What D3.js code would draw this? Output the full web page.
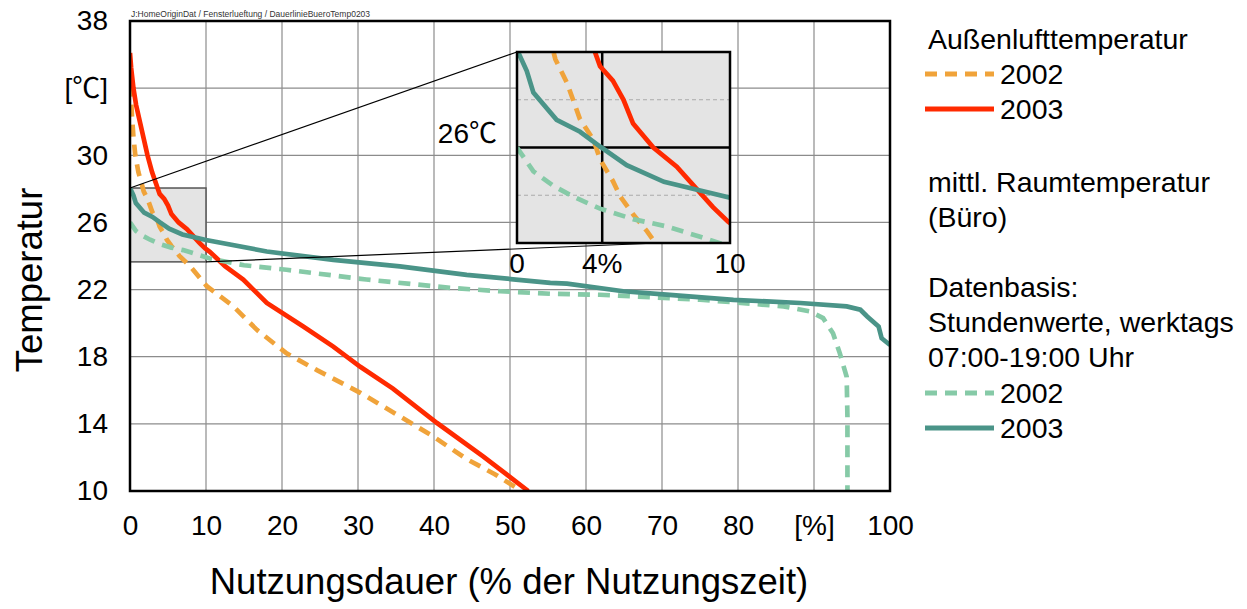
<!DOCTYPE html>
<html lang="de">
<head>
<meta charset="UTF-8">
<title>Dauerlinie Temperatur</title>
<script src="https://d3js.org/d3.v7.min.js"></script>
<style>
  body { margin: 0; background: #fff; }
  svg text { font-family: "Liberation Sans", Arial, "Noto Sans CJK JP", sans-serif; fill: #000; }
</style>
</head>
<body>
<svg id="main" width="1247" height="609"></svg>
<script>
// Dauerlinien: [Nutzungsdauer %, Temperatur °C]
const aussen2002 = [[0,34.2],[0.1,33.8],[0.25,32.4],[0.45,31.1],[0.7,30.0],[1.1,29.0],[1.6,28.2],[1.8,27.85],[2.35,27.35],[2.95,26.6],
  [3.6,26.15],[3.9,25.75],[4.5,25.3],[4.85,24.97],[5.45,24.6],[6.1,24.25],[6.5,24.0],[7.9,23.4],[10.1,22.2],
  [13.6,21.0],[16.7,19.6],[20.6,18.2],[24.6,17.2],[30.3,15.85],[35.5,14.45],[39.9,13.25],[44.3,11.9],[48,11.0],[51.5,10]];
const aussen2003 = [[0,36.1],[0.15,35.2],[0.45,34.0],[0.8,33.0],[1.3,32.0],[1.8,31.0],[2.3,30.0],[2.9,29.0],[3.66,28.0],[3.9,27.7],
  [4.5,27.4],[5.0,27.0],[5.45,26.5],[6.4,26.0],[7.5,25.6],[8.6,25.05],[9.2,24.75],[9.9,24.45],[10.5,24.25],
  [12.5,23.4],[14.9,22.6],[18,21.2],[22.8,19.8],[26.75,18.6],[30.3,17.4],[34.6,16.1],[40.4,14.05],[46.5,12.05],[52.4,10]];
const raum2002 = [[0,26.0],[0.77,25.5],[1.7,25.2],[2.65,24.97],[3.9,24.72],[5.45,24.5],[7.0,24.35],[8.6,24.13],
  [10.5,23.85],[15,23.45],[20.6,23.18],[31.1,22.6],[42.1,22.1],[48.7,21.9],[55.3,21.75],[61.8,21.69],[75,21.4],
  [86,21.0],[89.5,20.7],[91.2,20.3],[92.5,19.4],[93.4,18.2],[94.3,16.8],[94.4,14.4],[94.4,10]];
const raum2003 = [[0,28.05],[0.46,27.6],[0.77,27.15],[1.86,26.58],[2.96,26.33],[3.9,26.02],[5.15,25.63],[6.9,25.28],
  [8.6,25.1],[10,24.95],[18,24.27],[26.75,23.77],[35.5,23.38],[44.3,22.88],[55.3,22.4],[57.5,22.35],[64.9,21.9],
  [70.6,21.7],[79.4,21.39],[88.2,21.2],[94.3,21.0],[96.1,20.8],[97,20.4],[98.5,19.8],[98.9,19.1],[100,18.7]];

const xTicks = [0,10,20,30,40,50,60,70,80,90,100];
const xTickLabels = ['0','10','20','30','40','50','60','70','80','[%]','100'];
const yTicks = [10,14,18,22,26,30,34,38];
const yTickLabels = ['10','14','18','22','26','30','[℃]','38'];

// Ausschnitt (Lupe)
const zoomPct = [0, 10];
const zoomTemp = [24, 28];
const zoomBoxTemp = [23.65, 28.05];
const insetXTicks = [0, 4, 10];
const insetXLabels = ['0', '4%', '10'];

const series = [
  {data: aussen2002, color: '#f0a33a', dash: '12,8', label: '2002'},
  {data: aussen2003, color: '#ff2a00', dash: null, label: '2003'},
  {data: raum2002, color: '#86caa7', dash: '12,8', label: '2002'},
  {data: raum2003, color: '#4a9488', dash: null, label: '2003'}
];

let svg = d3.select('svg#main');
let x = d3.scaleLinear().domain([0,100]).range([130,890]);
let y = d3.scaleLinear().domain([10,38]).range([491,21]);

svg.append('rect').attr('width',1247).attr('height',609).attr('fill','#fff');

svg.append('clipPath').attr('id','plotClip').append('rect')
  .attr('x',130).attr('y',21).attr('width',760).attr('height',470);

// grid
svg.append('g').selectAll('line').data(xTicks.slice(1,-1)).enter().append('line')
  .attr('x1',d=>x(d)).attr('x2',d=>x(d)).attr('y1',y(38)).attr('y2',y(10))
  .attr('stroke','#8c8c8c').attr('stroke-width',1.2);
svg.append('g').selectAll('line').data(yTicks.slice(1,-1)).enter().append('line')
  .attr('y1',d=>y(d)).attr('y2',d=>y(d)).attr('x1',x(0)).attr('x2',x(100))
  .attr('stroke','#8c8c8c').attr('stroke-width',1.2);

// grey zoom box in the main plot
svg.append('rect')
  .attr('x',x(zoomPct[0])).attr('y',y(zoomBoxTemp[1]))
  .attr('width',x(zoomPct[1])-x(zoomPct[0])).attr('height',y(zoomBoxTemp[0])-y(zoomBoxTemp[1]))
  .attr('fill','#e4e4e4').attr('stroke','#555').attr('stroke-width',1.5);

// curves
let line = d3.line().x(d=>x(d[0])).y(d=>y(d[1]));
svg.append('g').attr('clip-path','url(#plotClip)')
  .selectAll('path').data(series).enter().append('path')
  .attr('d',d=>line(d.data)).attr('fill','none')
  .attr('stroke',d=>d.color).attr('stroke-width',4.7)
  .attr('stroke-dasharray',d=>d.dash);

// inset
let ins = {x0:517, x1:730, y0:52, y1:243};
let xi = d3.scaleLinear().domain(zoomPct).range([ins.x0, ins.x1]);
let yi = d3.scaleLinear().domain(zoomTemp).range([ins.y1, ins.y0]);

// connecting lines
svg.append('line').attr('x1',x(zoomPct[0])).attr('y1',y(zoomBoxTemp[1]))
  .attr('x2',xi(zoomPct[0])).attr('y2',yi(zoomTemp[1]))
  .attr('stroke','#000').attr('stroke-width',1.2);
svg.append('line').attr('x1',x(zoomPct[1])).attr('y1',y(zoomBoxTemp[0]))
  .attr('x2',xi(zoomPct[1])).attr('y2',yi(zoomTemp[0]) - 3)
  .attr('stroke','#000').attr('stroke-width',1.2);

svg.append('clipPath').attr('id','insetClip').append('rect')
  .attr('x',ins.x0).attr('y',ins.y0).attr('width',ins.x1-ins.x0).attr('height',ins.y1-ins.y0);

let inset = svg.append('g');
inset.append('rect').attr('x',ins.x0).attr('y',ins.y0)
  .attr('width',ins.x1-ins.x0).attr('height',ins.y1-ins.y0).attr('fill','#e4e4e4');
inset.selectAll('line.dl').data([25,27]).enter().append('line')
  .attr('x1',ins.x0).attr('x2',ins.x1).attr('y1',d=>yi(d)).attr('y2',d=>yi(d))
  .attr('stroke','#aaa').attr('stroke-width',1).attr('stroke-dasharray','4,3');
inset.append('line').attr('x1',xi(4)).attr('x2',xi(4)).attr('y1',ins.y0).attr('y2',ins.y1)
  .attr('stroke','#000').attr('stroke-width',2.5);
inset.append('line').attr('x1',ins.x0).attr('x2',ins.x1).attr('y1',yi(26)).attr('y2',yi(26))
  .attr('stroke','#000').attr('stroke-width',2.5);
let linei = d3.line().x(d=>xi(d[0])).y(d=>yi(d[1]));
inset.append('g').attr('clip-path','url(#insetClip)')
  .selectAll('path').data(series).enter().append('path')
  .attr('d',d=>linei(d.data)).attr('fill','none')
  .attr('stroke',d=>d.color).attr('stroke-width',4.7)
  .attr('stroke-dasharray',d=>d.dash);
inset.append('rect').attr('x',ins.x0).attr('y',ins.y0)
  .attr('width',ins.x1-ins.x0).attr('height',ins.y1-ins.y0)
  .attr('fill','none').attr('stroke','#000').attr('stroke-width',2.5);

inset.append('text').attr('x',ins.x0-20).attr('y',yi(26)-5)
  .attr('text-anchor','end').style('font-size','28px').text('26℃');
inset.selectAll('text.xl').data(insetXTicks).enter().append('text')
  .attr('x',d=>xi(d)).attr('y',273).attr('text-anchor','middle')
  .style('font-size','28px').text((d,i)=>insetXLabels[i]);

// plot frame
svg.append('rect').attr('x',x(0)).attr('y',y(38))
  .attr('width',x(100)-x(0)).attr('height',y(10)-y(38))
  .attr('fill','none').attr('stroke','#000').attr('stroke-width',2.5);

// axes
let yAxis = d3.axisLeft(y).tickValues(yTicks).tickSize(0).tickPadding(22)
  .tickFormat((d,i)=>yTickLabels[i]);
let gy = svg.append('g').attr('transform','translate(130,0)').call(yAxis);
gy.select('.domain').remove();
gy.selectAll('text').style('font-size','28px').attr('font-family',null);

let xAxis = d3.axisBottom(x).tickValues(xTicks).tickSize(0).tickPadding(24)
  .tickFormat((d,i)=>xTickLabels[i]);
let gx = svg.append('g').attr('transform','translate(0,491)').call(xAxis);
gx.select('.domain').remove();
gx.selectAll('text').style('font-size','28px').attr('font-family',null);

// titles
svg.append('text').attr('x',509).attr('y',594).attr('text-anchor','middle')
  .style('font-size','36.5px').text('Nutzungsdauer (% der Nutzungszeit)');
svg.append('text').attr('transform','translate(42,280) rotate(-90)').attr('text-anchor','middle')
  .style('font-size','36.5px').text('Temperatur');
svg.append('text').attr('x',131).attr('y',17)
  .style('font-size','8.5px').style('fill','#333')
  .text('J:HomeOriginDat / Fensterlueftung / DauerlinieBueroTemp0203');

// legend
const legendRows = [
  {t:'Außenlufttemperatur', y:49},
  {t:'mittl. Raumtemperatur', y:192},
  {t:'(Büro)', y:227},
  {t:'Datenbasis:', y:297},
  {t:'Stundenwerte, werktags', y:332},
  {t:'07:00-19:00 Uhr', y:367}
];
const legendKeys = [{s:0, y:74},{s:1, y:109},{s:2, y:393},{s:3, y:428}];
let lg = svg.append('g');
lg.selectAll('text.r').data(legendRows).enter().append('text')
  .attr('x',928).attr('y',d=>d.y).style('font-size','28.5px').text(d=>d.t);
lg.selectAll('line').data(legendKeys).enter().append('line')
  .attr('x1',925).attr('x2',994).attr('y1',d=>d.y).attr('y2',d=>d.y)
  .attr('stroke',d=>series[d.s].color).attr('stroke-width',5)
  .attr('stroke-dasharray',d=>series[d.s].dash);
lg.selectAll('text.k').data(legendKeys).enter().append('text')
  .attr('x',1000).attr('y',d=>d.y+10).style('font-size','28.5px').text(d=>series[d.s].label);
</script>
</body>
</html>
